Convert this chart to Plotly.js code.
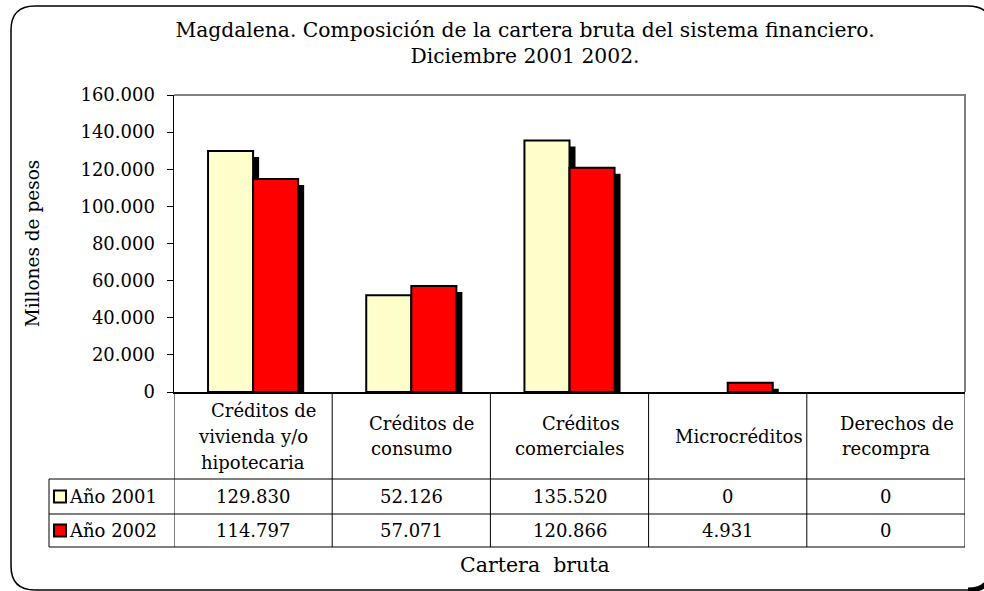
<!DOCTYPE html>
<html>
<head>
<meta charset="utf-8">
<script src="https://cdn.plot.ly/plotly-3.0.1.min.js"></script>
<style>html,body{margin:0;padding:0;background:#fff;overflow:hidden;}#chart{width:984px;height:591px;}</style>
</head>
<body>
<div id="chart"></div>
<script>
// ---- data ----
const categories = [
  ["Créditos de", "vivienda y/o", "hipotecaria"],
  ["Créditos de", "consumo"],
  ["Créditos", "comerciales"],
  ["Microcréditos"],
  ["Derechos de", "recompra"]
];
const seriesNames = ["Año 2001", "Año 2002"];
const values2001 = [129830, 52126, 135520, 0, 0];
const values2002 = [114797, 57071, 120866, 4931, 0];
const yTickValues = [0, 20000, 40000, 60000, 80000, 100000, 120000, 140000, 160000];
const seriesColors = ["#FFFFCC", "#FF0000"];

// ---- layout geometry (pixels) ----
const FONT = "DejaVu Serif";
const L = 174, T = 95, W = 791, H = 297;
const px = p => (p - L) / W;          // pixel x -> paper
const py = p => (T + H - p) / H;      // pixel y -> paper
const yMax = 160000;
const barW = 45 / 158;                 // bar width in category units
const shDX = 6 / 158;                  // shadow offset x (category units)
const shDY = 6 * yMax / H;             // shadow offset y (data units)
const TS = 18;                         // table font size

const idx = categories.map((_, i) => i);
const fmt = v => String(v).replace(/\B(?=(\d{3})+(?!\d))/g, ".");
const allSeries = [values2001, values2002];

const traces = [];
allSeries.forEach((vals, s) => {
  traces.push({
    type: "bar", x: idx, y: vals.map(v => (v - shDY > 0 ? v - shDY : null)),
    offset: -barW + s * barW + shDX, width: barW,
    marker: {color: "#000000", line: {width: 0}},
    hoverinfo: "skip", showlegend: false
  });
});
allSeries.forEach((vals, s) => {
  traces.push({
    type: "bar", x: idx, y: vals.map(v => (v > 0 ? v : null)), name: seriesNames[s],
    offset: -barW + s * barW, width: barW,
    marker: {color: seriesColors[s], line: {color: "#000000", width: 2}},
    showlegend: false
  });
});

const shapes = [];
const annotations = [];
const lineK = {color: "#000000", width: 1};

// plot-area gray frame (top and right)
shapes.push({type: "path", xref: "paper", yref: "paper",
  path: `M ${px(174)},${py(95)} L ${px(965)},${py(95)} L ${px(965)},${py(392)}`,
  line: {color: "#808080", width: 2}});

// table lines
const yRows = [479, 514, 547];
yRows.forEach(r => shapes.push({type: "line", xref: "paper", yref: "paper",
  x0: px(49), x1: px(965), y0: py(r), y1: py(r), line: lineK}));
for (let i = -1; i < categories.length; i++) {
  shapes.push({type: "line", xref: "x", yref: "paper",
    x0: i + 0.5, x1: i + 0.5, y0: 0, y1: py(547), line: lineK});
}
shapes.push({type: "line", xref: "paper", yref: "paper",
  x0: px(49), x1: px(49), y0: py(479), y1: py(547), line: lineK});

// header row (category labels)
categories.forEach((lines, i) => {
  const n = lines.length;
  lines.forEach((t, j) => {
    annotations.push({xref: "x", yref: "paper", x: i, y: py(436 + (j - (n - 1) / 2) * 26),
      xshift: j === 0 ? 11 : 0,
      text: t, showarrow: false, xanchor: "center", yanchor: "middle",
      font: {family: FONT, size: TS, color: "#000"}});
  });
});

// data rows
const rowCenters = [496.5, 530.5];
allSeries.forEach((vals, s) => {
  vals.forEach((v, i) => {
    annotations.push({xref: "x", yref: "paper", x: i, y: py(rowCenters[s]),
      text: fmt(v), showarrow: false, xanchor: "center", yanchor: "middle",
      font: {family: FONT, size: TS, color: "#000"}});
  });
  shapes.push({type: "rect", xref: "paper", yref: "paper",
    x0: px(54), x1: px(66), y0: py(rowCenters[s] - 6), y1: py(rowCenters[s] + 6),
    fillcolor: seriesColors[s], line: {color: "#000", width: 2}});
  annotations.push({xref: "paper", yref: "paper", x: px(67), y: py(rowCenters[s]),
    text: seriesNames[s], showarrow: false, xanchor: "left", yanchor: "middle",
    font: {family: FONT, size: TS, color: "#000"}});
});

// x axis title
annotations.push({xref: "paper", yref: "paper", x: px(535), y: py(565),
  text: "Cartera  bruta", showarrow: false, xanchor: "center", yanchor: "middle",
  font: {family: FONT, size: 20.5, color: "#000"}});

// outer rounded border
const bx0 = 11, by0 = 6, bx1 = 992, by1 = 590, r = 24;
shapes.push({type: "path", xref: "paper", yref: "paper",
  path: `M ${px(bx0 + r)},${py(by0)} L ${px(bx1 - r)},${py(by0)} Q ${px(bx1)},${py(by0)} ${px(bx1)},${py(by0 + r)}` +
        ` L ${px(bx1)},${py(by1 - r)} Q ${px(bx1)},${py(by1)} ${px(bx1 - r)},${py(by1)}` +
        ` L ${px(bx0 + r)},${py(by1)} Q ${px(bx0)},${py(by1)} ${px(bx0)},${py(by1 - r)}` +
        ` L ${px(bx0)},${py(by0 + r)} Q ${px(bx0)},${py(by0)} ${px(bx0 + r)},${py(by0)} Z`,
  line: {color: "#000", width: 1.5}});
shapes.push({type: "path", xref: "paper", yref: "paper",
  path: `M ${px(bx1)},${py(by1 - r)} Q ${px(bx1)},${py(by1)} ${px(bx1 - r)},${py(by1)}`,
  line: {color: "#000", width: 5}});

const layout = {
  width: 984, height: 591, autosize: false,
  margin: {l: L, r: 984 - L - W, t: T, b: 591 - T - H, pad: 0},
  paper_bgcolor: "#fff", plot_bgcolor: "#fff",
  separators: ",.",
  barmode: "overlay",
  showlegend: false,
  font: {family: FONT, color: "#000"},
  title: {
    text: "Magdalena. Composición de la cartera bruta del sistema financiero.<br>Diciembre 2001 2002.",
    xref: "container", yref: "container", x: 525 / 984, xanchor: "center",
    y: 1 - 37 / 591, yanchor: "top",
    font: {family: FONT, size: 20.3, color: "#000"}
  },
  xaxis: {
    range: [-0.5, categories.length - 0.5], showticklabels: false, ticks: "",
    showgrid: false, zeroline: false, showline: true, linecolor: "#000", linewidth: 2,
    fixedrange: true
  },
  yaxis: {
    range: [0, yMax], tickvals: yTickValues, ticktext: yTickValues.map(fmt),
    ticks: "outside", ticklen: 6, tickwidth: 1, tickcolor: "#000",
    ticklabelstandoff: 8,
    showgrid: false, zeroline: false, showline: true, linecolor: "#000", linewidth: 1.5,
    tickfont: {family: FONT, size: 18, color: "#000"},
    title: {text: "Millones de pesos", standoff: 36, font: {family: FONT, size: 18.5, color: "#000"}},
    fixedrange: true
  },
  shapes: shapes,
  annotations: annotations
};

Plotly.newPlot("chart", traces, layout, {displayModeBar: false, staticPlot: true});
</script>
</body>
</html>
